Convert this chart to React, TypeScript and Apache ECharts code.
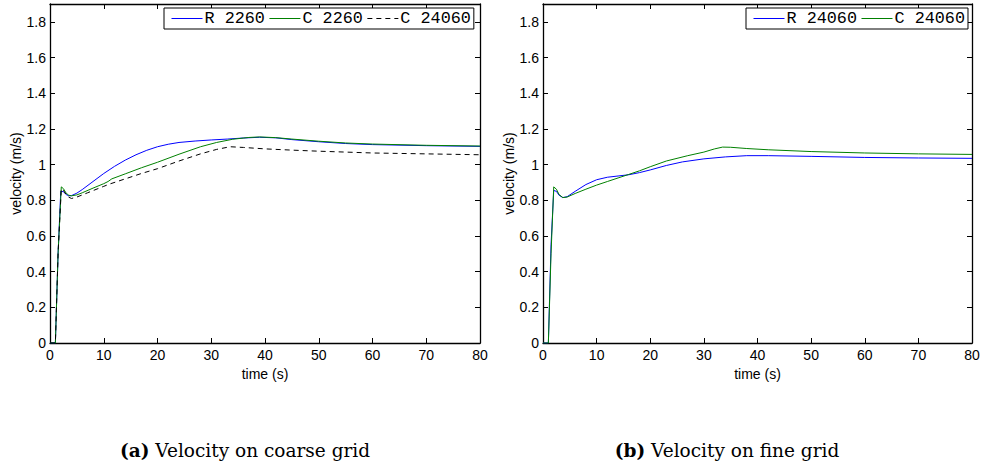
import React, { useEffect, useRef } from "react";
import * as echarts from "echarts";

// Left panel (coarse grid)
const coarseRT = [0, 1, 1.5, 2, 2.5, 3, 3.5, 4, 5, 6, 8, 10, 12, 14, 16, 18, 20, 22, 24, 27, 30, 33, 36, 39, 42, 45, 50, 55, 60, 70, 80];
const coarseRV = [0, 0, 0.5, 0.85, 0.848, 0.832, 0.825, 0.826, 0.84, 0.86, 0.905, 0.95, 0.99, 1.025, 1.055, 1.08, 1.1, 1.114, 1.124, 1.132, 1.138, 1.143, 1.149, 1.153, 1.15, 1.14, 1.128, 1.118, 1.112, 1.106, 1.102];

const coarseCT = [0, 1, 1.5, 2.1, 2.5, 3, 3.5, 4, 5, 6, 8, 10, 10.8, 11.5, 14, 17, 20, 24, 28, 31, 34, 37, 39, 42, 45, 50, 55, 60, 70, 80];
const coarseCV = [0, 0, 0.5, 0.875, 0.865, 0.84, 0.828, 0.825, 0.83, 0.842, 0.868, 0.893, 0.905, 0.92, 0.948, 0.982, 1.013, 1.058, 1.1, 1.124, 1.142, 1.152, 1.155, 1.151, 1.143, 1.131, 1.121, 1.115, 1.108, 1.104];

const refCT = [0, 1, 1.5, 2.1, 2.5, 3, 3.5, 4, 5, 7, 10, 11, 14, 17, 20, 24, 28, 31, 33.5, 36, 40, 45, 50, 55, 60, 70, 80];
const refCV = [0, 0, 0.5, 0.865, 0.855, 0.832, 0.817, 0.81, 0.818, 0.842, 0.878, 0.89, 0.92, 0.95, 0.977, 1.02, 1.06, 1.085, 1.1, 1.096, 1.088, 1.081, 1.075, 1.07, 1.065, 1.06, 1.055];

// Right panel (fine grid)
const fineRT = [0, 1, 1.5, 2, 2.5, 3, 3.7, 4.5, 6, 8, 10, 12, 14, 16, 18, 20, 23, 26, 30, 34, 38, 42, 50, 60, 70, 80];
const fineRV = [0, 0, 0.55, 0.855, 0.85, 0.828, 0.815, 0.82, 0.85, 0.888, 0.915, 0.929, 0.936, 0.943, 0.955, 0.97, 0.995, 1.015, 1.032, 1.043, 1.05, 1.05, 1.046, 1.04, 1.037, 1.035];

const fineCT = [0, 1, 1.5, 2, 2.5, 3, 3.7, 4.5, 6, 8, 10, 12, 14, 16, 18, 20, 23, 27, 30, 32, 33.5, 35, 38, 42, 50, 60, 70, 80];
const fineCV = [0, 0, 0.5, 0.875, 0.862, 0.832, 0.815, 0.818, 0.838, 0.862, 0.885, 0.905, 0.925, 0.945, 0.965, 0.988, 1.02, 1.05, 1.07, 1.088, 1.098, 1.097, 1.09, 1.083, 1.073, 1.065, 1.06, 1.057];

const leftLegend = ["R 2260", "C 2260", "C 24060"];
const rightLegend = ["R 24060", "C 24060 (fine)"];
const captions = ["(a)", "Velocity on coarse grid", "(b)", "Velocity on fine grid"];

const xTitle = "time (s)";
const yTitle = "velocity (m/s)";

const pairs = (t: number[], v: number[]) => t.map((x, i) => [x, v[i]]);

const labelFont = { fontFamily: "Liberation Sans, Arial, sans-serif", fontSize: 14, color: "#000" };

function axesFor(gridIndex: number) {
  const xBottom = {
    type: "value", gridIndex, min: 0, max: 80, interval: 10, position: "bottom",
    axisLine: { show: true, onZero: false, lineStyle: { color: "#000", width: 1.3 } },
    axisTick: { show: true, inside: true, length: 5, lineStyle: { color: "#000" } },
    axisLabel: { ...labelFont, margin: 5 },
    splitLine: { show: false },
    name: xTitle, nameLocation: "middle", nameGap: 17,
    nameTextStyle: { ...labelFont },
  };
  const xTop = {
    type: "value", gridIndex, min: 0, max: 80, interval: 10, position: "top",
    axisLine: { show: true, onZero: false, lineStyle: { color: "#000", width: 1.3 } },
    axisTick: { show: true, inside: true, length: 5, lineStyle: { color: "#000" } },
    axisLabel: { show: false }, splitLine: { show: false },
  };
  const yLeft = {
    type: "value", gridIndex, min: 0, max: 1.9, interval: 0.2, position: "left",
    axisLine: { show: true, onZero: false, lineStyle: { color: "#000", width: 1.3 } },
    axisTick: { show: true, inside: true, length: 5, lineStyle: { color: "#000" } },
    axisLabel: { ...labelFont, margin: 4, formatter: (v: number) => (v > 1.85 ? "" : String(Math.round(v * 10) / 10)) },
    splitLine: { show: false },
    name: yTitle, nameLocation: "middle", nameGap: 27, nameRotate: 90,
    nameTextStyle: { ...labelFont },
  };
  const yRight = {
    type: "value", gridIndex, min: 0, max: 1.9, interval: 0.2, position: "right",
    axisLine: { show: true, onZero: false, lineStyle: { color: "#000", width: 1.3 } },
    axisTick: { show: true, inside: true, length: 5, lineStyle: { color: "#000" } },
    axisLabel: { show: false }, splitLine: { show: false },
  };
  return { x: [xBottom, xTop], y: [yLeft, yRight] };
}

const legendBase = {
  orient: "horizontal",
  top: 8,
  padding: [2, 3, 2, 7],
  itemGap: 4,
  itemWidth: 31,
  itemHeight: 12,
  backgroundColor: "#fff",
  borderColor: "#000",
  borderWidth: 1,
  borderRadius: 0,
  selectedMode: false,
  itemStyle: { opacity: 0 },
  lineStyle: { width: 1 },
  textStyle: { fontFamily: "Liberation Mono, Courier New, monospace", fontSize: 16.8, color: "#000", padding: [0, 0, 0, -3] },
  formatter: (n: string) => n.replace(" (fine)", ""),
};

export default function App() {
  const ref = useRef<HTMLDivElement>(null);
  useEffect(() => {
    if (!ref.current) return;
    const chart = echarts.init(ref.current, undefined, { renderer: "svg" });
    const a = axesFor(0);
    const b = axesFor(1);
    const line = (name: string, data: number[][], color: string, xi: number, yi: number, dashed = false) => ({
      name, type: "line", data, xAxisIndex: xi, yAxisIndex: yi,
      symbol: "none", showSymbol: false, smooth: false,
      lineStyle: { color, width: 1, type: dashed ? [5, 4] : "solid" },
      itemStyle: { color },
      z: 2,
    });
    chart.setOption({
      animation: false,
      backgroundColor: "#fff",
      grid: [
        { left: 50, top: 4, width: 430, height: 339, show: false },
        { left: 543, top: 4, width: 429, height: 339, show: false },
      ],
      xAxis: [...a.x, ...b.x],
      yAxis: [...a.y, ...b.y],
      legend: [
        { ...legendBase, left: 164, data: leftLegend },
        { ...legendBase, left: 746, data: rightLegend },
      ],
      series: [
        line(leftLegend[0], pairs(coarseRT, coarseRV), "#0000ff", 0, 0),
        line(leftLegend[1], pairs(coarseCT, coarseCV), "#008000", 0, 0),
        line(leftLegend[2], pairs(refCT, refCV), "#000000", 0, 0, true),
        line(rightLegend[0], pairs(fineRT, fineRV), "#0000ff", 2, 2),
        line(rightLegend[1], pairs(fineCT, fineCV), "#008000", 2, 2),
      ],
      graphic: [
        {
          type: "text", x: 245, y: 450,
          style: {
            text: `{b|${captions[0]}} ${captions[1]}`,
            align: "center", verticalAlign: "middle",
            fontFamily: "DejaVu Serif, serif", fontSize: 18.5, fill: "#000",
            rich: { b: { fontFamily: "DejaVu Serif, serif", fontSize: 18.5, fontWeight: "bold" } },
          },
        },
        {
          type: "text", x: 727, y: 450,
          style: {
            text: `{b|${captions[2]}} ${captions[3]}`,
            align: "center", verticalAlign: "middle",
            fontFamily: "DejaVu Serif, serif", fontSize: 18.5, fill: "#000",
            rich: { b: { fontFamily: "DejaVu Serif, serif", fontSize: 18.5, fontWeight: "bold" } },
          },
        },
      ],
    });
    return () => chart.dispose();
  }, []);
  return <div ref={ref} style={{ position: "fixed", left: 0, top: 0, width: 986, height: 471 }} />;
}
